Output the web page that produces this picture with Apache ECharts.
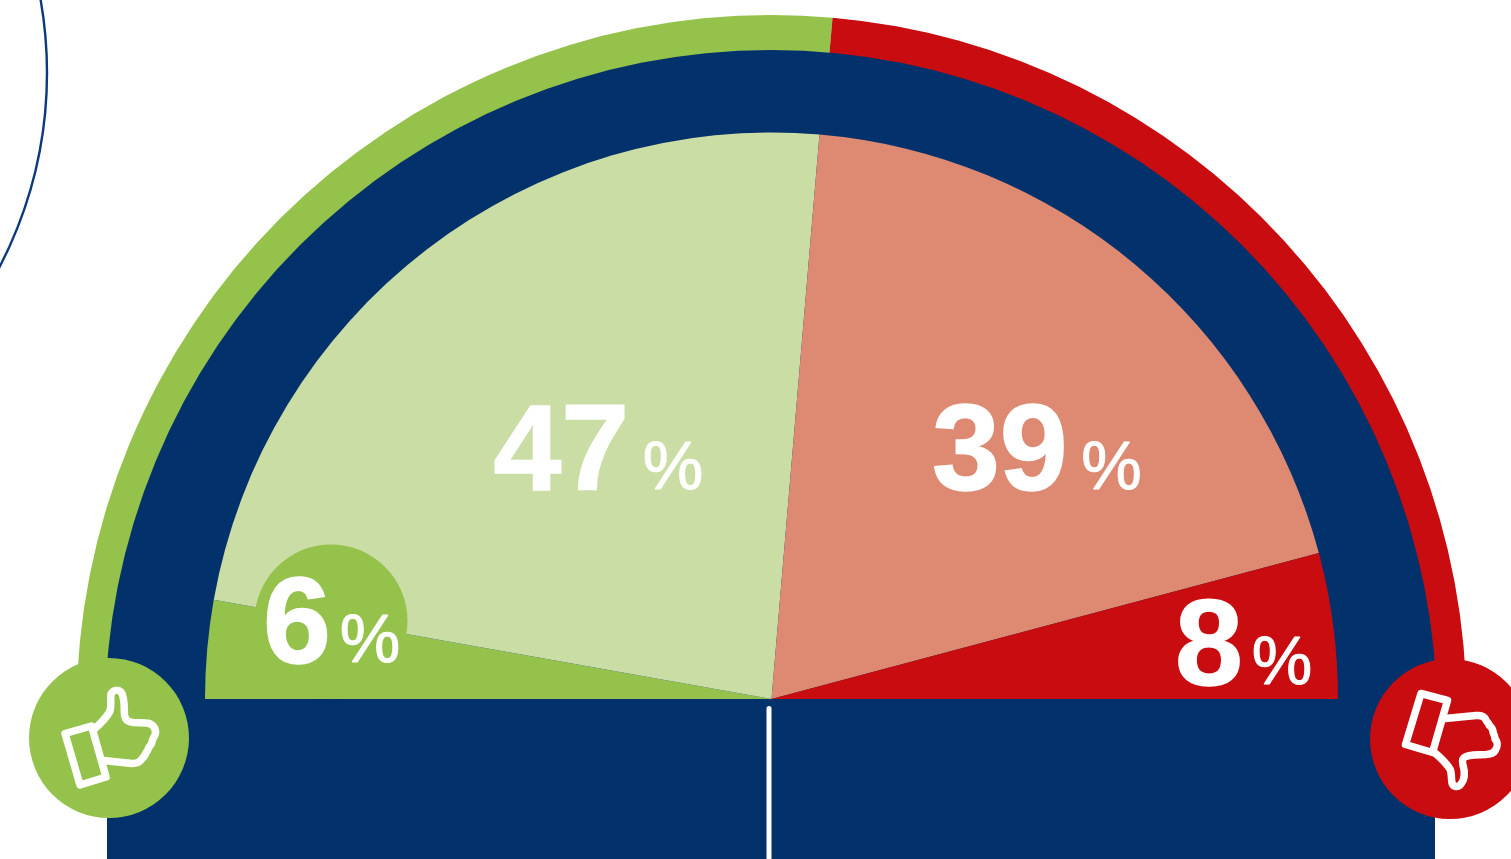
<!DOCTYPE html>
<html>
<head>
<meta charset="utf-8">
<style>html,body{margin:0;padding:0;background:#fff;overflow:hidden}#c{width:1511px;height:859px}</style>
<script src="https://cdn.jsdelivr.net/npm/echarts@6/dist/echarts.min.js"></script>
</head>
<body>
<div id="c"></div>
<script>
// Data
const answers = ['Strongly agree', 'Agree', 'Disagree', 'Strongly disagree'];
const shares = [5.6, 47.1, 39.0, 8.3];
const ringGroups = ['Agree total', 'Disagree total'];
const ringShares = [52.8, 47.2];

// Styles and layout
const answerColors = ['#94C24B', '#CADDA5', '#DE8A73', '#C80C0F'];
const ringColors = ['#94C24B', '#C80C0F'];
const labelSpots = [[263, 629.5], [493.5, 456.5], [932, 456.5], [1175, 651.5]];
const NAVY = '#03316C';

const thumbUp = 'M95 728.5 C101 723 106 718 109.5 712 C112 707 110 700 111 694 C113 690 118 689 121 692 C125 697 124 708 124.5 715 C125 720 128 722 133 722.5 L146 723 C152 723 156 728 155.5 733 C155 737 152 739 152 742 C152 745 149 746 148.5 748 C148 751 146 752 145.5 754 C144.5 757 142 758 141 760 C139 763 136 763.5 132 763.5 L103.5 760.5';
const cuffUp = 'M65 733.5 L91.5 726 L106 777 L80 785 Z';
const thumbDown = 'M1445 718.5 L1476 715.5 C1481 715 1484 716 1485.5 719 C1486 722 1488.5 722 1489 725 C1491 727 1493 728 1493 732 C1494 735 1495 736 1495 739 C1498 742 1497.5 747 1495.5 750 C1493.5 754 1490 754 1486 754.5 C1478 754.5 1470 755 1466 756.5 C1462 758 1462 761 1463 765 C1465 772 1465 779 1461 784 C1458 788 1453 787 1452 783 C1451 778 1452 773 1450 769 C1446 763 1441 758 1435 753';
const cuffDown = 'M1421 693.5 L1447.5 700.5 L1432.5 752.5 L1405.5 744.5 Z';
const iconStyle = {fill: null, stroke: '#fff', lineWidth: 7.5, lineJoin: 'round', lineCap: 'round'};

echarts.graphic.registerShape('thumbUp', echarts.graphic.extendPath(thumbUp));
echarts.graphic.registerShape('cuffUp', echarts.graphic.extendPath(cuffUp));
echarts.graphic.registerShape('thumbDown', echarts.graphic.extendPath(thumbDown));
echarts.graphic.registerShape('cuffDown', echarts.graphic.extendPath(cuffDown));

const chart = echarts.init(document.getElementById('c'), null, {renderer: 'canvas'});
const halfPie = {type: 'pie', startAngle: 180, endAngle: 0, clockwise: true, silent: true, animation: false,
  labelLine: {show: false}, emphasis: {disabled: true}};
const percentStyle = {fontFamily: 'Liberation Sans', fontWeight: 'normal', fontSize: 68, color: '#fff', textBorderColor: '#fff', textBorderWidth: 1, verticalAlign: 'bottom', height: 94};

chart.setOption({
  animation: false,
  graphic: {elements: [
    {type: 'circle', z: 1, silent: true, shape: {cx: -373, cy: 73, r: 420}, style: {fill: null, stroke: '#0A3A7C', lineWidth: 2.4}},
    {type: 'circle', z: 3, silent: true, shape: {cx: 771, cy: 716, r: 666}, style: {fill: NAVY}},
    {type: 'rect', z: 3, silent: true, shape: {x: 107, y: 716, width: 1328, height: 143}, style: {fill: NAVY}},
    {type: 'rect', z: 3, silent: true, shape: {x: 766.5, y: 706, width: 5, height: 160, r: 2.5}, style: {fill: '#fff'}},
    {type: 'circle', z: 6, silent: true, shape: {cx: 331, cy: 621, r: 76.5}, style: {fill: '#94C24B'}},
    {type: 'circle', z: 6, silent: true, shape: {cx: 109, cy: 738, r: 80}, style: {fill: '#94C24B'}},
    {type: 'circle', z: 6, silent: true, shape: {cx: 1450, cy: 739, r: 80}, style: {fill: '#C80C0F'}},
    {type: 'thumbUp', z: 7, silent: true, style: iconStyle},
    {type: 'cuffUp', z: 7, silent: true, style: iconStyle},
    {type: 'thumbDown', z: 7, silent: true, style: iconStyle},
    {type: 'cuffDown', z: 7, silent: true, style: iconStyle}
  ]},
  series: [
    Object.assign({}, halfPie, {
      name: 'Ring', z: 2, center: [771.5, 710], radius: [600, 695], label: {show: false},
      data: ringGroups.map((n, i) => ({name: n, value: ringShares[i], itemStyle: {color: ringColors[i]}}))
    }),
    Object.assign({}, halfPie, {
      name: 'Answers', z: 4, center: [771.5, 699], radius: [0, 566.5], label: {show: false},
      data: answers.map((n, i) => ({name: n, value: shares[i], itemStyle: {color: answerColors[i]}}))
    }),
    Object.assign({}, halfPie, {
      name: 'Answer labels', z: 8, center: [771.5, 699], radius: [0, 566.5],
      itemStyle: {color: 'rgba(0,0,0,0)'},
      label: {
        show: true, position: 'inside', color: '#fff',
        formatter: p => {
          const n = Math.round(p.value);
          return '{v|' + n + '}' + (n < 10 ? '{q|%}' : '{p|%}');
        },
        rich: {
          v: {fontFamily: 'Liberation Sans', fontWeight: 'bold', fontSize: 122, color: '#fff', textBorderColor: '#fff', textBorderWidth: 1.5, verticalAlign: 'bottom', lineHeight: 122},
          p: Object.assign({}, percentStyle, {padding: [0, 0, 0, 13.5]}),
          q: Object.assign({}, percentStyle, {padding: [0, 0, 0, 9]})
        }
      },
      labelLayout: p => ({x: labelSpots[p.dataIndex][0], y: labelSpots[p.dataIndex][1], align: 'left', verticalAlign: 'middle'}),
      data: answers.map((n, i) => ({name: n, value: shares[i]}))
    })
  ]
});
</script>
</body>
</html>
